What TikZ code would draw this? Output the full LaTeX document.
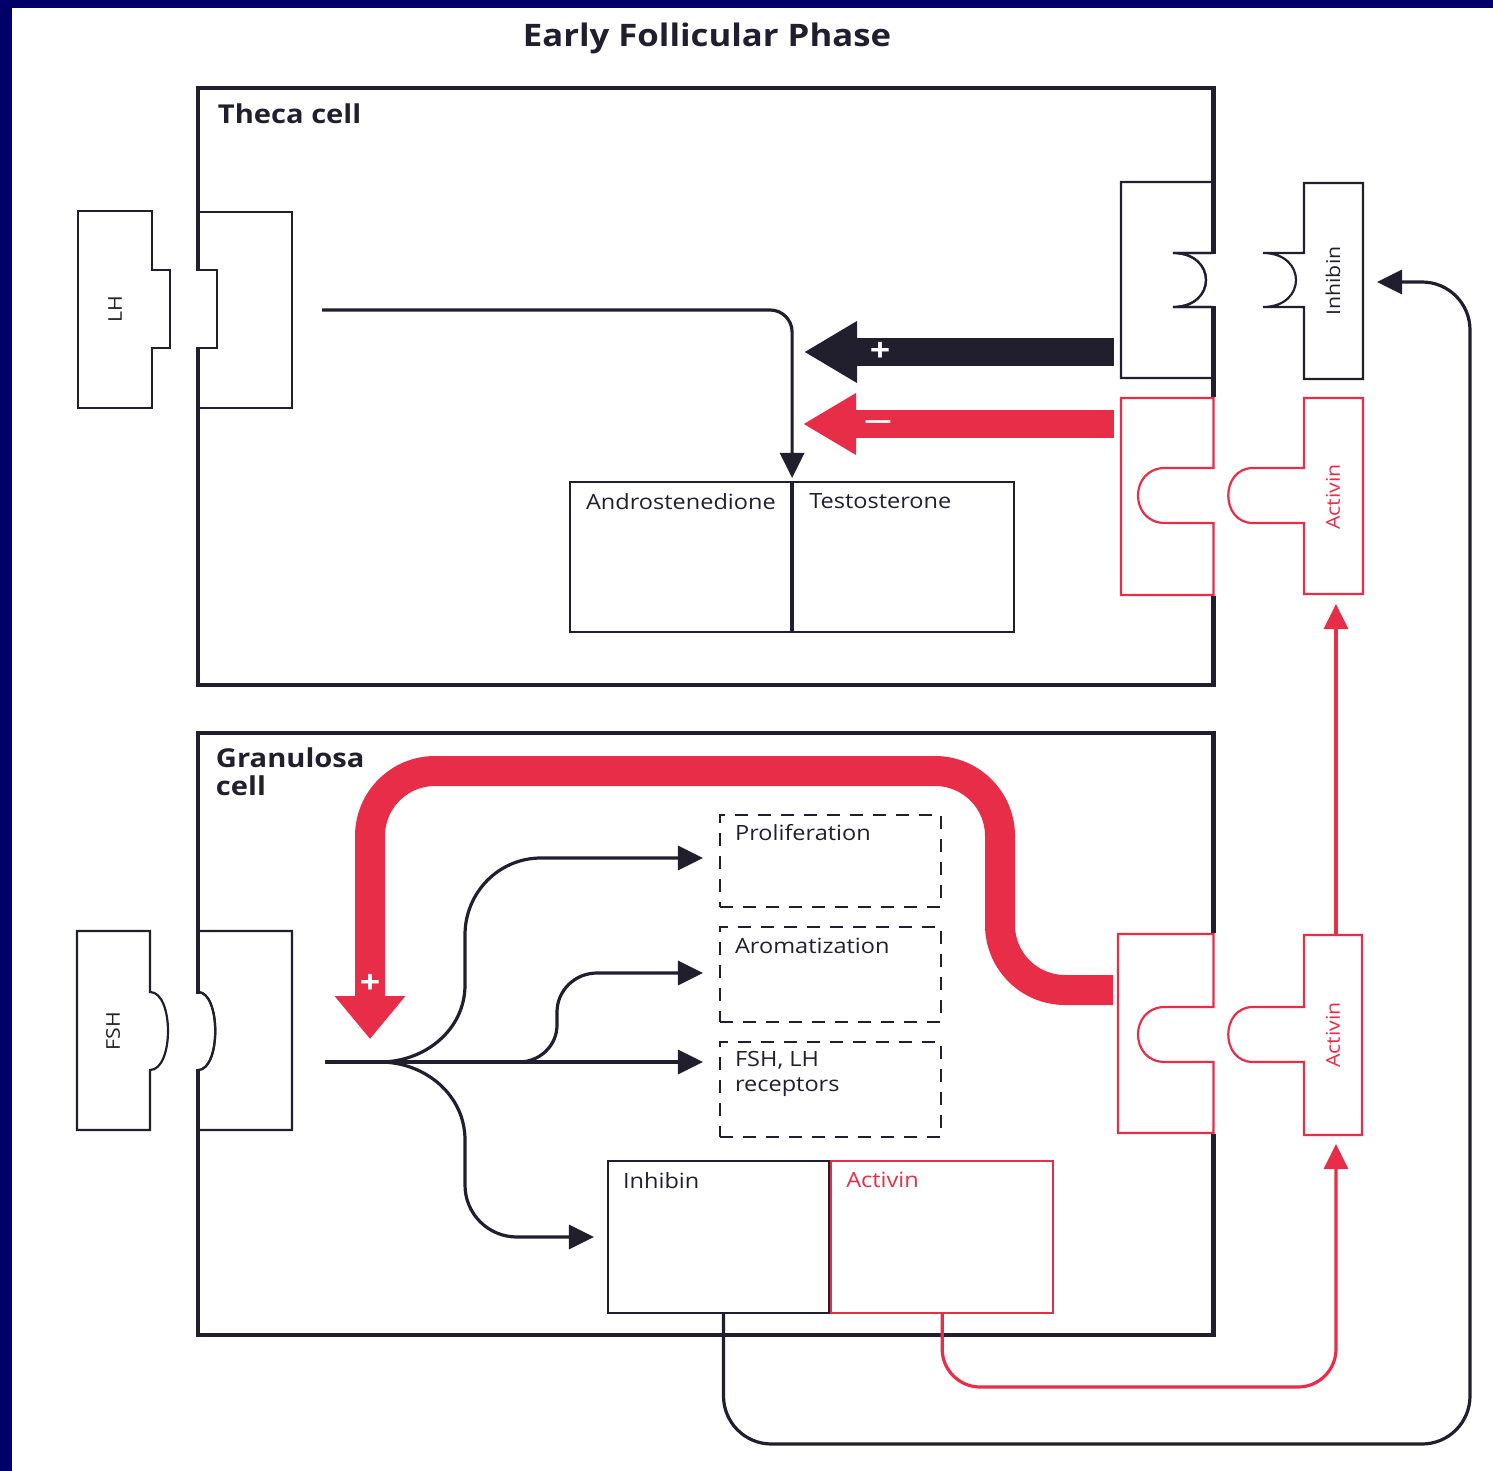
\documentclass[tikz,border=0pt]{standalone}
\usepackage{fontspec}
\setmainfont{Open Sans}[FakeStretch=1.12]
\usetikzlibrary{positioning,arrows.meta}
\definecolor{slidenavy}{RGB}{0,0,104}
\definecolor{ink}{RGB}{33,31,45}
\definecolor{actred}{RGB}{232,45,72}

\begin{document}
\begin{tikzpicture}[x=1pt, y=-1pt,
  cellbox/.style={draw=ink, line width=4.5pt, inner sep=0pt},
  cellname/.style={inner sep=0pt, align=left, text=ink, font=\fontsize{26}{28}\selectfont\bfseries},
  prodbox/.style={draw=ink, line width=2.2pt, inner sep=0pt},
  dashbox/.style={draw=ink, line width=2.2pt, dash pattern=on 13pt off 10pt, inner sep=0pt, minimum width=221pt},
  prodname/.style={inner sep=0pt, align=left, text=ink, font=\fontsize{21}{25}\selectfont},
  molname/.style={inner sep=0pt, rotate=90, font=\fontsize{19}{21}\selectfont},
  recep/.style={draw=ink, line width=2.2pt, fill=white},
  recepred/.style={recep, draw=actred},
  flow/.style={draw=ink, line width=3.2pt, -{Triangle[length=25pt,width=24pt]}},
  flowred/.style={flow, draw=actred},
  fat/.style={line width=28pt, -{Triangle[length=53pt,width=58pt]}},
  sign/.style={inner sep=0pt, text=white, font=\fontsize{32}{32}\selectfont\bfseries}
]
\useasboundingbox (0,0) rectangle (1493,1471);
\fill[white] (0,0) rectangle (1493,1471);
\fill[slidenavy] (0,0) rectangle (1493,8);
\fill[slidenavy] (0,0) rectangle (12,1471);

\node[inner sep=0pt, text=ink, font=\fontsize{31}{33}\selectfont\bfseries] (title) at (707,38) {Early Follicular Phase};

% hormones outside the cells
\draw[recep] (78,211) -- (152,211) -- (152,270) -- (170,270) -- (170,348) -- (152,348) -- (152,408) -- (78,408) -- cycle;
\node[molname, text=ink] (lh) at (115,309) {LH};
\draw[recep] (77,931) -- (150,931) -- (150,992) .. controls (174,992) and (174,1070) .. (150,1070) -- (150,1130) -- (77,1130) -- cycle;
\node[molname, text=ink] (fsh) at (113,1031) {FSH};
\draw[recep] (1304,183) -- (1363,183) -- (1363,379) -- (1304,379) -- (1304,307) -- (1263,307) .. controls (1307,307) and (1307,253) .. (1263,253) -- (1304,253) -- cycle;
\node[molname, text=ink] (inhlig) at (1333,281) {Inhibin};
\draw[recepred] (1304,398) -- (1363,398) -- (1363,594) -- (1304,594) -- (1304,523) -- (1253,523) .. controls (1220,523) and (1220,468) .. (1253,468) -- (1304,468) -- cycle;
\node[molname, text=actred] (actligT) at (1333,497) {Activin};
\draw[recepred] (1304,935) -- (1362,935) -- (1362,1135) -- (1304,1135) -- (1304,1062) -- (1253,1062) .. controls (1220,1062) and (1220,1007) .. (1253,1007) -- (1304,1007) -- cycle;
\node[molname, text=actred] (actligG) at (1333,1035) {Activin};

% black receptors
\draw[recep] (198,212) -- (292,212) -- (292,408) -- (198,408) -- (198,348) -- (217,348) -- (217,270) -- (198,270) -- cycle;
\draw[recep] (198,931) -- (292,931) -- (292,1130) -- (198,1130) -- (198,1070) .. controls (221,1070) and (221,992) .. (198,992) -- cycle;
\draw[recep] (1213.5,182) -- (1121,182) -- (1121,378) -- (1213.5,378) -- (1213.5,307) -- (1173,307) .. controls (1217,307) and (1217,253) .. (1173,253) -- (1213.5,253) -- cycle;

% cells
\node[cellbox, minimum width=1015.5pt, minimum height=597pt] (theca) at (705.75,386.5) {};
\node[cellname, below right=18pt and 22pt of theca.north west, anchor=north west] (thecaname) {Theca cell};
\node[cellbox, minimum width=1015.5pt, minimum height=602pt] (granulosa) at (705.75,1034) {};
\node[cellname, below right=17pt and 20pt of granulosa.north west, anchor=north west] (granname) {Granulosa\\cell};

% openings in the walls
\fill[white] (195,271.5) rectangle (201,346.5);
\draw[ink, line width=2.2pt] (198,270) -- (217,270) -- (217,348) -- (198,348);
\fill[white] (195,993.5) rectangle (201,1068.5);
\draw[ink, line width=2.2pt] (198,992) .. controls (221,992) and (221,1070) .. (198,1070);
\fill[white] (1211,254.5) rectangle (1216.5,305.5);
\draw[ink, line width=2.2pt] (1213.5,253) -- (1173,253) .. controls (1217,253) and (1217,307) .. (1173,307) -- (1213.5,307);

% red receptors
\fill[white] (1210,397) rectangle (1217,596);
\draw[recepred] (1213.5,398) -- (1121,398) -- (1121,595) -- (1213.5,595) -- (1213.5,523) -- (1165,523) .. controls (1129,523) and (1129,468) .. (1165,468) -- (1213.5,468) -- cycle;
\fill[white] (1210,933) rectangle (1217,1134);
\draw[recepred] (1213.5,934) -- (1118,934) -- (1118,1133) -- (1213.5,1133) -- (1213.5,1062) -- (1165,1062) .. controls (1129,1062) and (1129,1007) .. (1165,1007) -- (1213.5,1007) -- cycle;

% products
\node[prodbox, minimum width=221pt, minimum height=150pt] (andro) at (680.5,557) {};
\node[prodbox, minimum width=221pt, minimum height=150pt, right=0pt of andro] (testo) {};
\node[prodname, below right=12pt and 17pt of andro.north west, anchor=north west] (andname) {Androstenedione};
\node[prodname, below right=12pt and 17pt of testo.north west, anchor=north west] (testname) {Testosterone};

\node[dashbox, minimum height=92pt] (prolif) at (830.5,861) {};
\node[dashbox, minimum height=95pt] (aromat) at (830.5,974.5) {};
\node[dashbox, minimum height=95pt] (fshlh) at (830.5,1089.5) {};
\node[prodname, below right=10pt and 16pt of prolif.north west, anchor=north west] (prolifname) {Proliferation};
\node[prodname, below right=12pt and 16pt of aromat.north west, anchor=north west] (aromatname) {Aromatization};
\node[prodname, below right=10pt and 16pt of fshlh.north west, anchor=north west] (fshlhname) {FSH, LH\\receptors};

\node[prodbox, minimum width=221pt, minimum height=152pt] (inhbox) at (718.5,1237) {};
\node[prodbox, draw=actred, minimum width=222pt, minimum height=152pt, right=0pt of inhbox] (actbox) {};
\node[prodname, below right=12pt and 16pt of inhbox.north west, anchor=north west] (inhname) {Inhibin};
\node[prodname, text=actred, below right=12pt and 16pt of actbox.north west, anchor=north west] (actname) {Activin};

% theca pathway
\coordinate (lhout) at (322,310);
\draw[flow, rounded corners=22pt] (lhout) -| ([yshift=3pt]andro.north east);
\coordinate (inhrecW) at (1114,352);
\coordinate (inhtip) at (804,352);
\draw[fat, draw=ink] (inhrecW) -- (inhtip);
\node[sign] (plusT) at (880,352) {+};
\coordinate (actrecW) at (1114,424);
\coordinate (acttip) at (803,424);
\draw[fat, draw=actred] (actrecW) -- (acttip);
\node[sign, font=\fontsize{24}{24}\selectfont\bfseries] (minusT) at (878,425) {---};

% granulosa pathway
\coordinate (fshout) at (325,1062);
\coordinate (fork) at (380,1062);
\coordinate (fork2) at (519,1062);
\draw[flow, shorten >=16pt] (fshout) -- (fork -| fshlh.west);
\draw[flow, shorten >=16pt] (fork) to[out=0,in=-90] (465,985) -- (465,935) to[out=90,in=180] (541,858) -- ([yshift=3pt]prolif.west);
\draw[flow, shorten >=16pt] (fork2) to[out=0,in=-90] (557,1025) -- (557,1012) to[out=90,in=180] (597,973) -- ([yshift=1.5pt]aromat.west);
\draw[flow, shorten >=13pt] (fork) to[out=0,in=90] (465,1140) -- (465,1185) to[out=-90,in=180] (517,1237) -- (inhbox.west);

\coordinate (actrecG) at (1113,990);
\coordinate (redtip) at (370,1039);
\draw[line width=30pt, draw=actred, rounded corners=65pt, -{Triangle[length=43pt,width=68pt]}] (actrecG) -| (1000,771) -| (redtip);
\node[sign] (plusG) at (370,984) {+};

% feedback to the theca cell
\coordinate (inhligE) at (1363,282);
\draw[flow, rounded corners=48pt, shorten >=14pt] ([xshift=5pt]inhbox.south) |- (1470,1444) |- (inhligE);
\coordinate (actligGS) at (1336,1135);
\coordinate (actligGN) at (1336,935);
\coordinate (actligTS) at (1336,594);
\coordinate (redturn) at (1336,1387);
\draw[flowred, rounded corners=38pt, shorten >=9pt] (actbox.south) |- (redturn) -- (actligGS);
\draw[flowred, shorten >=10pt] (actligGN) -- (actligTS);
\end{tikzpicture}
\end{document}
